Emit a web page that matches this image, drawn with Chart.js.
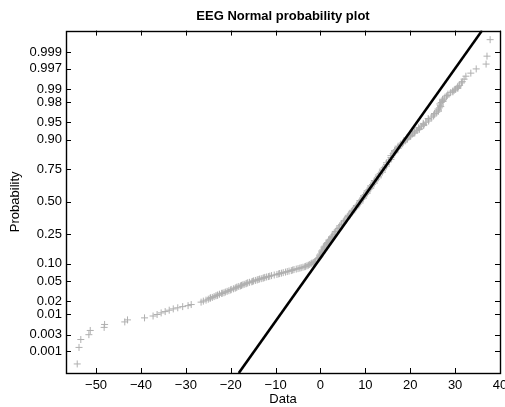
<!DOCTYPE html>
<html>
<head>
<meta charset="utf-8">
<script src="https://cdn.jsdelivr.net/npm/chart.js@4.4.0/dist/chart.umd.min.js"></script>
<style>
  html, body { margin: 0; padding: 0; background: #fff; }
  #wrap { width: 505px; height: 407px; }
</style>
</head>
<body>
<div id="wrap"><canvas id="normplot"></canvas></div>
<script>
// sorted EEG samples (x) and their plotting probabilities (p)
var sampleX = [
    -54.2, -53.8, -53.4, -51.6, -51.3, -48.2, -48.1, -43.6, -43.0, -39.2,
    -37.3, -36.4, -35.5, -34.6, -33.7, -32.8, -31.8, -30.7, -29.5, -28.8,
    -26.6, -26.1, -25.5, -25.0, -24.6, -24.1, -23.7, -23.3, -22.9, -22.5, -22.0, -21.5,
    -20.8, -20.4, -20.0, -19.4, -18.8, -18.2, -17.6, -17.0, -16.4, -15.8, -15.1, -14.5,
    -13.9, -13.2, -12.6, -12.0, -11.3, -10.3, -9.3, -8.7, -7.8, -7.0, -6.2, -5.4,
    -4.6, -3.9, -3.3, -2.7, -2.1, -1.6,
    -1.1, -0.7, -0.5, -0.3, -0.15, 0.0, 0.3, 0.5, 0.8, 1.0, 1.3, 1.6, 1.9, 2.2, 2.45, 2.7,
    3.2, 3.7, 4.2, 4.7, 5.2, 5.7, 6.1, 6.6, 7.0, 7.5, 8.0, 8.4, 8.8, 9.2, 9.6, 10.0,
    10.4, 10.8, 11.2, 11.6, 12.0, 12.5, 12.9, 13.3, 13.8, 14.2, 14.7, 15.2, 15.7, 16.2,
    16.5, 16.9, 17.3, 17.8, 18.4, 19.0, 19.3, 19.7, 20.1, 20.5, 21.0, 21.5, 22.0, 22.5,
    23.0, 23.5, 24.1, 24.8, 25.3, 25.9, 26.3, 26.5, 26.7, 26.9, 27.2, 27.6, 28.2, 29.0,
    29.5, 30.1, 30.6, 31.0, 31.4, 31.6, 32.0, 32.4, 33.5, 34.7, 36.9, 37.1, 37.8
];
var sampleP = [
    0.0004, 0.0013, 0.0022, 0.0030, 0.0039, 0.0047, 0.0056, 0.0065, 0.0073, 0.0082,
    0.0091, 0.0099, 0.0108, 0.0116, 0.0125, 0.0134, 0.0142, 0.0151, 0.0159, 0.0168,
    0.019, 0.020, 0.021, 0.022, 0.023, 0.024, 0.025, 0.026, 0.027, 0.028, 0.029, 0.030,
    0.032, 0.033, 0.034, 0.036, 0.038, 0.040, 0.042, 0.044, 0.046, 0.048, 0.050, 0.052,
    0.054, 0.056, 0.058, 0.060, 0.062, 0.065, 0.068, 0.070, 0.073, 0.076, 0.079, 0.082,
    0.085, 0.088, 0.091, 0.095, 0.100, 0.105,
    0.110, 0.115, 0.120, 0.125, 0.130, 0.140, 0.150, 0.160, 0.170, 0.180, 0.190, 0.200, 0.210, 0.220, 0.230, 0.240,
    0.26, 0.28, 0.30, 0.32, 0.34, 0.36, 0.38, 0.40, 0.42, 0.44, 0.46, 0.48, 0.50, 0.52, 0.54, 0.56,
    0.58, 0.60, 0.62, 0.64, 0.66, 0.68, 0.70, 0.72, 0.74, 0.76, 0.78, 0.80, 0.82, 0.84,
    0.85, 0.86, 0.87, 0.88, 0.89, 0.90, 0.905, 0.91, 0.915, 0.92, 0.925, 0.93, 0.935, 0.94,
    0.945, 0.95, 0.955, 0.96, 0.964, 0.968, 0.971, 0.974, 0.977, 0.98, 0.982, 0.984, 0.986, 0.988,
    0.989, 0.990, 0.991, 0.992, 0.993, 0.9935, 0.9944, 0.9953, 0.9961, 0.997, 0.9978, 0.9987, 0.9996
];

var denseX = [
    -24.5, -23.0, -21.9, -21.2, -19.9, -19.0, -18.6, -17.8, -17.3, -16.6, -16.2, -15.3,
    -14.9, -14.1, -13.6, -12.8, -12.4, -11.6, -10.9, -9.7, -9.1, -8.3, -7.4, -6.5,
    -5.9, -5.0, -4.3, -3.5, -3.0, -2.4, -1.9, -1.3,
    -0.2, 0.3, 0.3, 0.8, 0.8, 1.3, 1.4, 1.9, 1.9, 2.5, 2.5, 3.0, 3.3, 4.1, 4.3, 5.1,
    5.3, 6.0, 6.2, 7.0, 7.1, 7.9, 8.0, 8.8, 8.8, 9.6, 9.6, 10.4, 10.4, 11.2, 11.2, 12.0,
    12.0, 12.9, 12.9, 13.8, 13.8, 14.7, 14.7, 15.7, 15.7, 16.6, 16.5, 17.3, 17.3, 18.3, 18.5,
    19.4, 19.3, 20.1, 20.0, 21.0, 20.9, 22.0, 21.9, 23.0, 22.9, 24.1, 24.0, 25.2, 25.4,
    26.3, 26.2, 26.8, 26.6, 27.3, 27.2, 28.1, 28.4, 29.5, 29.8, 30.6, 30.6
];
var denseP = [
    0.0235, 0.0265, 0.0295, 0.031, 0.035, 0.037, 0.039, 0.041, 0.043, 0.045, 0.047, 0.049,
    0.051, 0.053, 0.055, 0.057, 0.059, 0.061, 0.0635, 0.0665, 0.069, 0.0715, 0.0745, 0.0775,
    0.0805, 0.0835, 0.0865, 0.0895, 0.093, 0.0975, 0.1025, 0.1075,
    0.135, 0.145, 0.155, 0.165, 0.175, 0.185, 0.195, 0.205, 0.215, 0.225, 0.235, 0.25, 0.27, 0.29, 0.31, 0.33,
    0.35, 0.37, 0.39, 0.41, 0.43, 0.45, 0.47, 0.49, 0.51, 0.53, 0.55, 0.57, 0.59, 0.61, 0.63, 0.65,
    0.67, 0.69, 0.71, 0.73, 0.75, 0.77, 0.79, 0.81, 0.83, 0.845, 0.855, 0.865, 0.875, 0.885, 0.895,
    0.9025, 0.9075, 0.9125, 0.9175, 0.9225, 0.9275, 0.9325, 0.9375, 0.9425, 0.9475, 0.9525, 0.9575, 0.962, 0.966,
    0.9695, 0.9725, 0.9755, 0.9785, 0.981, 0.983, 0.985, 0.987, 0.9885, 0.9895, 0.9905, 0.9915
];

// reference line end points (data units)
var fitX = [-18.2, 36.0];
var fitP = [0.0002, 0.9998];

var probTicks = [0.001, 0.003, 0.01, 0.02, 0.05, 0.10, 0.25, 0.50, 0.75, 0.90, 0.95, 0.98, 0.99, 0.997, 0.999];
var probLabels = ['0.001', '0.003', '0.01', '0.02', '0.05', '0.10', '0.25', '0.50', '0.75', '0.90', '0.95', '0.98', '0.99', '0.997', '0.999'];
var xTicks = [-50, -40, -30, -20, -10, 0, 10, 20, 30, 40];
var xMin = -56.7, xMax = 40;
var pMin = 0.0002, pMax = 0.9998;

// inverse normal cdf (Acklam), maps probability to the plot's y scale
function probit(p) {
    var a = [-3.969683028665376e+01, 2.209460984245205e+02, -2.759285104469687e+02, 1.383577518672690e+02, -3.066479806614716e+01, 2.506628277459239e+00];
    var b = [-5.447609879822406e+01, 1.615858368580409e+02, -1.556989798598866e+02, 6.680131188771972e+01, -1.328068155288572e+01];
    var c = [-7.784894002430293e-03, -3.223964580411365e-01, -2.400758277161838e+00, -2.549732539343734e+00, 4.374664141464968e+00, 2.938163982698783e+00];
    var d = [7.784695709041462e-03, 3.224671290700398e-01, 2.445134137142996e+00, 3.754408661907416e+00];
    var q, r;
    if (p < 0.02425) {
        q = Math.sqrt(-2 * Math.log(p));
        return (((((c[0]*q+c[1])*q+c[2])*q+c[3])*q+c[4])*q+c[5]) / ((((d[0]*q+d[1])*q+d[2])*q+d[3])*q+1);
    }
    if (p > 1 - 0.02425) {
        q = Math.sqrt(-2 * Math.log(1 - p));
        return -(((((c[0]*q+c[1])*q+c[2])*q+c[3])*q+c[4])*q+c[5]) / ((((d[0]*q+d[1])*q+d[2])*q+d[3])*q+1);
    }
    q = p - 0.5;
    r = q * q;
    return (((((a[0]*r+a[1])*r+a[2])*r+a[3])*r+a[4])*r+a[5])*q / (((((b[0]*r+b[1])*r+b[2])*r+b[3])*r+b[4])*r+1);
}

var points = sampleX.map(function (x, i) { return { x: x, y: probit(sampleP[i]) }; })
    .concat(denseX.map(function (x, i) { return { x: x, y: probit(denseP[i]) }; }));
var fitLine = fitX.map(function (x, i) { return { x: x, y: probit(fitP[i]) }; });

// MATLAB style box with inward ticks on all four sides
var boxTicks = {
    id: 'boxTicks',
    afterDatasetsDraw: function (chart) {
        var ctx = chart.ctx, a = chart.chartArea;
        var sx = chart.scales.x, sy = chart.scales.y;
        var len = 5;
        ctx.save();
        ctx.strokeStyle = '#000';
        ctx.lineWidth = 1;
        ctx.beginPath();
        xTicks.forEach(function (v) {
            var px = Math.round(sx.getPixelForValue(v)) + 0.5;
            ctx.moveTo(px, a.bottom); ctx.lineTo(px, a.bottom - len);
            ctx.moveTo(px, a.top); ctx.lineTo(px, a.top + len);
        });
        probTicks.forEach(function (p) {
            var py = Math.round(sy.getPixelForValue(probit(p))) + 0.5;
            ctx.moveTo(a.left, py); ctx.lineTo(a.left + len, py);
            ctx.moveTo(a.right, py); ctx.lineTo(a.right - len, py);
        });
        ctx.stroke();
        ctx.lineWidth = 1.4;
        ctx.strokeRect(Math.round(a.left) + 0.5, Math.round(a.top) + 0.5,
            Math.round(a.right - a.left), Math.round(a.bottom - a.top));
        ctx.restore();
    }
};

Chart.defaults.font.family = '"Liberation Sans", Arial, Helvetica, sans-serif';
Chart.defaults.font.size = 13;
Chart.defaults.color = '#000';

new Chart(document.getElementById('normplot').getContext('2d'), {
    type: 'scatter',
    data: {
        datasets: [{
            label: 'fit',
            type: 'line',
            data: fitLine,
            borderColor: '#000',
            borderWidth: 2.6,
            pointRadius: 0,
            fill: false,
            order: 0
        }, {
            label: 'EEG',
            data: points,
            pointStyle: 'cross',
            pointRadius: 3.5,
            pointBorderWidth: 1,
            borderColor: '#b0b0b0',
            backgroundColor: '#b0b0b0',
            order: 1
        }]
    },
    options: {
        responsive: true,
        maintainAspectRatio: false,
        animation: false,
        events: [],
        layout: { padding: { left: 0, right: 5, top: 0, bottom: 0 } },
        plugins: {
            legend: { display: false },
            tooltip: { enabled: false },
            title: {
                display: true,
                text: 'EEG Normal probability plot',
                fullSize: false,
                color: '#000',
                font: { size: 13, weight: 'bold' },
                padding: { top: 9, bottom: 6 }
            }
        },
        scales: {
            x: {
                type: 'linear',
                min: xMin,
                max: xMax,
                grid: { display: false, drawTicks: false },
                border: { display: false },
                afterBuildTicks: function (scale) {
                    scale.ticks = xTicks.map(function (v) { return { value: v }; });
                },
                afterFit: function (scale) {
                    scale.height = 34;
                    scale.paddingLeft = 0;
                    scale.paddingRight = 0;
                },
                ticks: {
                    padding: 5,
                    maxRotation: 0,
                    autoSkip: false,
                    callback: function (v) { return v < 0 ? '\u2212' + Math.abs(v) : String(v); }
                },
                title: { display: true, text: 'Data', padding: { top: 0, bottom: 0 } }
            },
            y: {
                type: 'linear',
                min: probit(pMin),
                max: probit(pMax),
                grid: { display: false, drawTicks: false },
                border: { display: false },
                afterBuildTicks: function (scale) {
                    scale.ticks = probTicks.map(function (p) { return { value: probit(p) }; });
                },
                afterFit: function (scale) {
                    scale.width = 66;
                    scale.paddingTop = 0;
                    scale.paddingBottom = 0;
                },
                ticks: {
                    padding: 4,
                    autoSkip: false,
                    callback: function (v, i) { return probLabels[i]; }
                },
                title: { display: true, text: 'Probability', padding: { top: 8, bottom: 0 } }
            }
        }
    },
    plugins: [boxTicks]
});
</script>
</body>
</html>
